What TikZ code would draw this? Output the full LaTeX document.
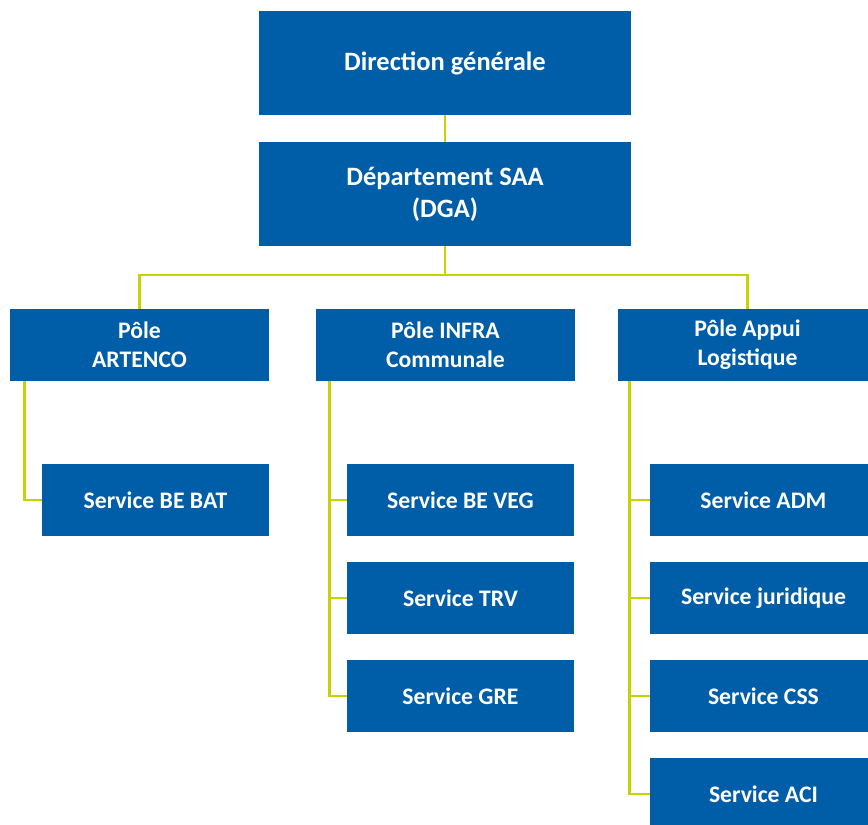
\documentclass[tikz,border=0pt]{standalone}
\usepackage{fontspec}
\setmainfont{Carlito}
\definecolor{boxblue}{RGB}{0,94,168}
\definecolor{linkgreen}{RGB}{200,210,0}
\begin{document}
\begin{tikzpicture}[x=1pt,y=-1pt,
  box/.style={fill=boxblue,text=white,inner sep=0pt,align=center,
    font=\fontsize{23.7}{29}\selectfont\bfseries},
  bigbox/.style={box,minimum width=372,minimum height=104,
    font=\fontsize{26.5}{32}\selectfont\bfseries},
  polebox/.style={box,minimum width=259,minimum height=72},
  servbox/.style={box,minimum width=227,minimum height=72},
  link/.style={draw=linkgreen,line width=2.8pt}]
\useasboundingbox (0,0) rectangle (868,825);
\node[bigbox] (dg) at (445,63) {Direction générale};
\node[bigbox] (dep) at (445,194) {Département SAA\\(DGA)};
\node[polebox] (pa) at (139.5,345) {Pôle\\ARTENCO};
\node[polebox] (pb) at (445.5,345) {Pôle INFRA\\Communale};
\node[polebox] (pc) at (747.5,345) {Pôle Appui\\Logistique};
\node[servbox] (a1) at (155.5,500) {Service BE BAT};
\node[servbox] (b1) at (460.5,500) {Service BE VEG};
\node[servbox] (b2) at (460.5,598) {Service TRV};
\node[servbox] (b3) at (460.5,696) {Service GRE};
\node[servbox] (c1) at (763.5,500) {Service ADM};
\node[servbox] (c2) at (763.5,598) {Service juridique};
\node[servbox] (c3) at (763.5,696) {Service CSS};
\node[servbox] (c4) at (763.5,794) {Service ACI};
\coordinate (hub) at (445,275);
\coordinate (ta) at ([xshift=15]pa.south west);
\coordinate (tb) at ([xshift=14]pb.south west);
\coordinate (tc) at ([xshift=12]pc.south west);
\draw[link] (dg) -- (dep);
\draw[link] (dep) -- (hub);
\draw[link] (hub) -| (pa);
\draw[link] (hub) -| (pc);
\draw[link] (ta) |- (a1.west);
\draw[link] (tb) |- (b1.west);
\draw[link] (tb) |- (b2.west);
\draw[link] (tb) |- (b3.west);
\draw[link] (tc) |- (c1.west);
\draw[link] (tc) |- (c2.west);
\draw[link] (tc) |- (c3.west);
\draw[link] (tc) |- (c4.west);
\end{tikzpicture}
\end{document}
